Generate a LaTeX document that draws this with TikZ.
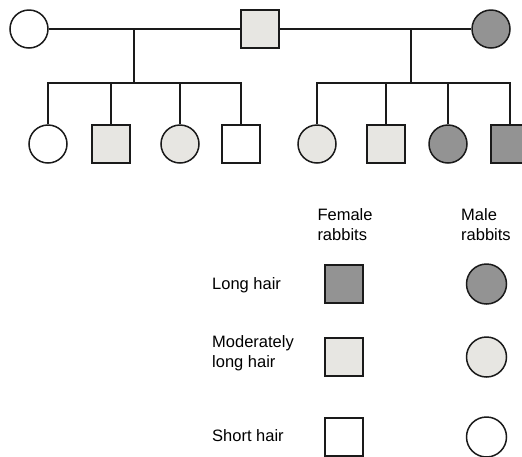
\documentclass[tikz,border=0pt]{standalone}
\usepackage{fontspec}
\setmainfont{Liberation Sans}
\definecolor{darkfill}{HTML}{939393}
\definecolor{lightfill}{HTML}{E7E6E2}
\definecolor{edge}{HTML}{1A1A1A}
\begin{document}
\begin{tikzpicture}[x=1pt,y=-1pt,
  female/.style={circle,draw=edge,line width=1.5pt,minimum size=38pt,inner sep=0pt},
  male/.style={rectangle,draw=edge,line width=1.5pt,minimum size=38pt,inner sep=0pt},
  lfemale/.style={female,minimum size=40pt},
  longh/.style={fill=darkfill},
  modh/.style={fill=lightfill},
  shorth/.style={fill=white},
  link/.style={draw=edge,line width=1.4pt},
  lbl/.style={inner sep=0pt,align=left,font=\fontsize{16.5}{19.5}\selectfont}]
\useasboundingbox (0,0) rectangle (522,456);
% parents
\node[female,shorth] (p1) at (29,29) {};
\node[male,modh] (p2) at (260,29) {};
\node[female,longh] (p3) at (491,29) {};
% children
\node[female,shorth] (c1) at (48,144) {};
\node[male,modh] (c2) at (111,144) {};
\node[female,modh] (c3) at (180,144) {};
\node[male,shorth] (c4) at (241,144) {};
\node[female,modh] (c5) at (317,144) {};
\node[male,modh] (c6) at (386,144) {};
\node[female,longh] (c7) at (448,144) {};
\node[male,longh] (c8) at (510,144) {};
% marriage lines
\coordinate (m1) at (134,29);
\coordinate (s1) at (134,83);
\coordinate (m2) at (411,29);
\coordinate (s2) at (411,83);
\draw[link] (p1.east) -- (p2.west);
\draw[link] (p2.east) -- (p3.west);
\draw[link] (m1) -- (s1);
\draw[link] (m2) -- (s2);
% sibship lines
\draw[link] (c1.north) |- (s1) -| (c4.north);
\draw[link] (c2.north) -- (c2.north |- s1);
\draw[link] (c3.north) -- (c3.north |- s1);
\draw[link] (c5.north) |- (s2) -| (c8.north);
\draw[link] (c6.north) -- (c6.north |- s2);
\draw[link] (c7.north) -- (c7.north |- s2);
% legend
\node[lbl,anchor=base west] (hf) at (317.3,240) {Female\\rabbits};
\node[lbl,anchor=base west] (hm) at (461,240) {Male\\rabbits};
\node[lbl,anchor=base west] (t1) at (212,289.3) {Long hair};
\node[lbl,anchor=base west] (t2) at (212,367) {Moderately\\long hair};
\node[lbl,anchor=base west] (t3) at (212,441.5) {Short hair};
\node[male,longh] (l1) at (344,284) {};
\node[male,modh] (l2) at (344,357) {};
\node[male,shorth] (l3) at (344,437) {};
\node[lfemale,longh] (f1) at (486.5,284) {};
\node[lfemale,modh] (f2) at (486.5,357) {};
\node[lfemale,shorth] (f3) at (486.5,437) {};
\end{tikzpicture}
\end{document}
